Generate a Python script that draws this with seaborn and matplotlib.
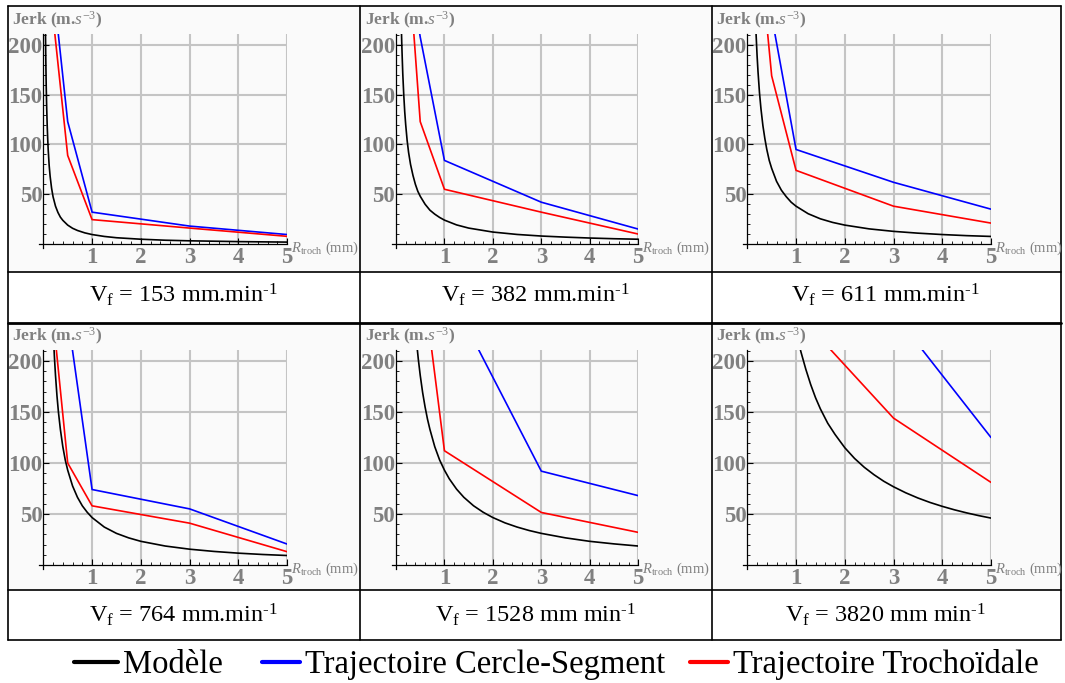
import matplotlib.pyplot as plt
import pandas as pd
import seaborn as sns
from matplotlib.lines import Line2D
from matplotlib.patches import Rectangle
from matplotlib.ticker import MultipleLocator

# ---- data ----
VF_LABELS = ['153 mm.min', '382 mm.min', '611 mm.min',
             '764 mm.min', '1528 mm min', '3820 mm min']
SERIES = ['Modèle', 'Trajectoire Cercle-Segment', 'Trajectoire Trochoïdale']
COLORS = ['black', 'blue', 'red']

X_TICKS = [1, 2, 3, 4, 5]
Y_TICKS = [50, 100, 150, 200]

# measured points (R_troch in mm)
R_MEAS = [0.2, 0.5, 1, 3, 5]
cercle_153 = [260, 123, 32, 18, 9.5]
troch_153 = [228, 89, 24.5, 16, 7.7]
cercle_382 = [300, 208, 84, 42, 15]
troch_382 = [324, 123, 55, 32, 10]
cercle_611 = [400, 229, 95, 62, 35]
troch_611 = [323, 169, 74, 38, 21]
cercle_764 = [450, 244, 74, 55, 20.5]
troch_764 = [243, 100, 58, 41, 13]
cercle_1528 = [550, 420, 276, 92, 68]
troch_1528 = [500, 300, 112, 51.5, 32]
cercle_3820 = [700, 600, 500, 247, 125]
troch_3820 = [450, 350, 248, 144, 81]

# model curve, sampled along the drawn curve
model_r_153 = [0.044, 0.05, 0.055, 0.06, 0.07, 0.08, 0.09, 0.1, 0.12, 0.14, 0.17, 0.2, 0.25,
               0.3, 0.35, 0.4, 0.5, 0.6, 0.7, 0.85, 1, 1.25, 1.5, 2, 2.5, 3, 4, 5]
model_j_153 = [216, 190, 173, 158, 136, 119, 106, 95, 79, 68, 56, 47.5, 38,
               31.7, 27, 23.8, 19, 15.8, 13.6, 11.2, 9.5, 7.6, 6.3, 4.8, 3.8, 3.2, 2.4, 1.9]
model_r_382 = [0.11, 0.12, 0.13, 0.14, 0.16, 0.18, 0.2, 0.23, 0.26, 0.3, 0.35, 0.4, 0.45, 0.5,
               0.6, 0.7, 0.8, 0.9, 1, 1.25, 1.5, 2, 2.5, 3, 3.5, 4, 4.5, 5]
model_j_382 = [218, 200, 185, 171, 150, 133, 120, 104, 92, 80, 69, 60, 53, 48,
               40, 34, 30, 26.7, 24, 19.2, 16, 12, 9.6, 8, 6.9, 6, 5.3, 4.8]
model_r_611 = [0.17, 0.18, 0.2, 0.22, 0.25, 0.28, 0.32, 0.36, 0.4, 0.45, 0.5, 0.6, 0.7,
               0.8, 0.9, 1, 1.25, 1.5, 1.75, 2, 2.5, 3, 3.5, 4, 4.5, 5]
model_j_611 = [224, 211, 190, 173, 152, 136, 119, 106, 95, 84, 76, 63, 54,
               47.5, 42, 38, 30.4, 25.3, 21.7, 19, 15.2, 12.7, 10.9, 9.5, 8.4, 7.6]
model_r_764 = [0.21, 0.23, 0.25, 0.28, 0.31, 0.35, 0.4, 0.45, 0.5, 0.6, 0.7, 0.8, 0.9,
               1, 1.25, 1.5, 1.75, 2, 2.5, 3, 3.5, 4, 4.5, 5]
model_j_764 = [221, 202, 186, 166, 150, 133, 116, 103, 93, 77.5, 66.4, 58, 51.7,
               46.5, 37.2, 31, 26.6, 23.2, 18.6, 15.5, 13.3, 11.6, 10.3, 9.3]
model_r_1528 = [0.43, 0.46, 0.5, 0.55, 0.6, 0.65, 0.7, 0.8, 0.9, 1, 1.1, 1.25, 1.4, 1.6,
                1.8, 2, 2.25, 2.5, 2.75, 3, 3.5, 4, 4.5, 5]
model_j_1528 = [216, 202, 186, 169, 155, 143, 133, 116, 103, 93, 84.5, 74.4, 66.4, 58.1,
                51.7, 46.5, 41.3, 37.2, 33.8, 31, 26.6, 23.2, 20.7, 18.6]
model_r_3820 = [1.05, 1.1, 1.2, 1.3, 1.4, 1.5, 1.65, 1.8, 2, 2.2, 2.4, 2.6, 2.8, 3,
                3.25, 3.5, 3.75, 4, 4.25, 4.5, 4.75, 5]
model_j_3820 = [219, 209, 192, 177, 164, 153, 139, 128, 115, 104.5, 95.8, 88.5, 82.1, 76.7,
                70.8, 65.7, 61.3, 57.5, 54.1, 51.1, 48.4, 46]

panels = [
    (model_r_153, model_j_153, cercle_153, troch_153),
    (model_r_382, model_j_382, cercle_382, troch_382),
    (model_r_611, model_j_611, cercle_611, troch_611),
    (model_r_764, model_j_764, cercle_764, troch_764),
    (model_r_1528, model_j_1528, cercle_1528, troch_1528),
    (model_r_3820, model_j_3820, cercle_3820, troch_3820),
]

# ---- style ----
sns.set_theme(style='white')
plt.rcParams['font.family'] = ['Liberation Serif', 'DejaVu Serif']
plt.rcParams['mathtext.fontset'] = 'custom'
plt.rcParams['mathtext.rm'] = 'Liberation Serif'
plt.rcParams['mathtext.it'] = 'Liberation Serif:italic'
plt.rcParams['mathtext.bf'] = 'Liberation Serif:bold'

W, H = 1065, 683
GRAY = '#808080'
GRID = '#c4c4c4'


def fx(px):
    return px / W


def fy(py):
    return 1 - py / H


fig = plt.figure(figsize=(W / 100, H / 100), dpi=100)
fig.patch.set_facecolor('white')

# table cells
COL_EDGES = [8, 360, 712, 1061]
ROW_EDGES = [(6, 272, 323), (323, 590, 640)]
for top, mid, bot in ROW_EDGES:
    fig.add_artist(Rectangle((fx(8), fy(mid)), fx(1061) - fx(8), fy(top) - fy(mid),
                             transform=fig.transFigure, facecolor='#fafafa',
                             edgecolor='none', zorder=0))
for y in [6, 272, 590, 640]:
    fig.add_artist(Line2D([fx(8), fx(1061)], [fy(y), fy(y)], color='black', lw=1.2))
fig.add_artist(Line2D([fx(8), fx(1061)], [fy(323), fy(323)], color='black', lw=2))
for x in COL_EDGES:
    fig.add_artist(Line2D([fx(x), fx(x)], [fy(6), fy(640)], color='black', lw=1.2))

# axes geometry (pixel of R=0 / R=5, J=0 / J=200)
COL_X0 = [43.3, 396, 747.3]
COL_X5 = [287.2, 638.2, 991]
ROW_Y0 = [244, 565]
ROW_Y200 = [45, 361]
CAP_Y = [295, 615]
CAP_X = [184, 536, 886]

for i, (mr, mj, cer, tro) in enumerate(panels):
    row, col = divmod(i, 3)
    x0, x5 = COL_X0[col], COL_X5[col]
    y0, y200 = ROW_Y0[row], ROW_Y200[row]
    ux = (x5 - x0) / 5
    uy = (y0 - y200) / 200
    left = x0 - 0.08 * ux
    bottom = y0 + 4 * uy
    top = y0 - 211 * uy
    ax = fig.add_axes([fx(left), fy(bottom), (x5 - left) / W, (bottom - top) / H])
    ax.set_facecolor('none')

    df = pd.concat([
        pd.DataFrame({'R': mr, 'J': mj, 'serie': SERIES[0]}),
        pd.DataFrame({'R': R_MEAS, 'J': cer, 'serie': SERIES[1]}),
        pd.DataFrame({'R': R_MEAS, 'J': tro, 'serie': SERIES[2]}),
    ])
    ax.vlines(X_TICKS, 0, 211, colors=GRID, lw=1.5, zorder=0)
    ax.hlines(Y_TICKS, 0, 5, colors=GRID, lw=1.5, zorder=0)
    sns.lineplot(data=df, x='R', y='J', hue='serie', hue_order=SERIES,
                 palette=dict(zip(SERIES, COLORS)), estimator=None, sort=False,
                 legend=False, lw=1.2, ax=ax)

    ax.set_xlim(-0.08, 5)
    ax.set_ylim(-4, 211)
    for s in ['top', 'right']:
        ax.spines[s].set_visible(False)
    for s in ['left', 'bottom']:
        ax.spines[s].set_position(('data', 0))
        ax.spines[s].set_color('black')
        ax.spines[s].set_linewidth(0.9)
    ax.set_xticks(X_TICKS)
    ax.set_xticklabels([str(t) for t in X_TICKS], fontweight='bold', fontsize=16.5, color=GRAY)
    ax.set_yticks(Y_TICKS)
    ax.set_yticklabels([str(t) for t in Y_TICKS], fontweight='bold', fontsize=16.5, color=GRAY)
    ax.xaxis.set_minor_locator(MultipleLocator(0.2))
    ax.yaxis.set_minor_locator(MultipleLocator(10))
    ax.tick_params(which='both', direction='in', color='black', bottom=True, left=True)
    ax.tick_params(which='major', length=4, width=0.8)
    ax.tick_params(which='minor', length=2.5, width=0.6)
    ax.tick_params(axis='x', which='major', pad=2)
    ax.tick_params(axis='y', which='major', pad=0.5)
    ax.set_xlabel('')
    ax.set_ylabel('')

    fig.text(fx(x0 - 31), fy(top - 9), r'Jerk (m.$s^{-3}$)', color=GRAY,
             fontweight='bold', fontsize=12.5, va='baseline', ha='left')
    fig.text(fx(x5 + 4), fy(y0 + 8), r'$R_{\mathrm{troch}}$ (mm)', color=GRAY,
             fontsize=10.5, va='baseline', ha='left')
    fig.text(fx(CAP_X[col]), fy(CAP_Y[row]),
             r'V$_{\mathrm{f}}$ = ' + VF_LABELS[i] + r'$^{\text{-1}}$',
             fontsize=17.5, color='black', ha='center', va='center')

# legend under the table
LEG_LINE_X = [(74, 118), (262, 300), (690, 728)]
LEG_TEXT_X = [123, 305, 733]
for (a, b), tx, name, c in zip(LEG_LINE_X, LEG_TEXT_X, SERIES, COLORS):
    fig.add_artist(Line2D([fx(a), fx(b)], [fy(662), fy(662)], color=c, lw=3))
    fig.text(fx(tx), fy(673), name, fontsize=23.5, color='black', va='baseline', ha='left')

fig.savefig('out.png', dpi=100)
